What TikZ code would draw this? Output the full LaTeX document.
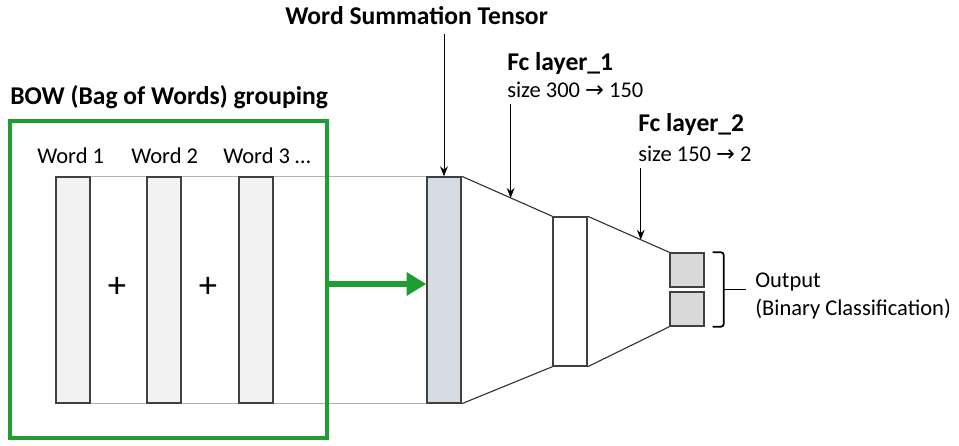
\documentclass[tikz,border=0pt]{standalone}
\usepackage{fontspec}
\setmainfont{Carlito}
\newfontfamily\arrowfont{DejaVu Sans}
\usetikzlibrary{arrows.meta,calc,backgrounds}
\definecolor{bowgreen}{RGB}{30,158,50}
\definecolor{tensorfill}{RGB}{214,220,228}

\begin{document}
\begin{tikzpicture}[x=0.025cm,y=-0.025cm,
  txt/.style={font=\fontsize{16}{19}\selectfont,inner sep=0pt},
  head/.style={font=\fontsize{18.2}{22}\selectfont\bfseries,inner sep=0pt},
  plus/.style={font=\fontsize{26}{30}\selectfont,inner sep=0pt},
  wordbar/.style={draw=black!75,line width=1pt,fill=black!5,minimum width=0.85cm,minimum height=5.65cm,inner sep=0pt},
  outbox/.style={draw=black!75,line width=1pt,fill=black!15,minimum width=0.85cm,minimum height=0.85cm,inner sep=0pt},
  pointer/.style={-{Stealth[length=7pt,width=5.5pt]},line width=0.7pt},
  trap/.style={draw=black!80,line width=0.8pt}]
\useasboundingbox (0,0) rectangle (959,446);
\node[wordbar] (w1) at (73,290) {};
\node[wordbar] (w2) at (164,290) {};
\node[wordbar] (w3) at (256,290) {};
\node[wordbar,fill=tensorfill] (tensor) at (444,290) {};
\node[wordbar,fill=white,minimum height=3.725cm] (fc1) at (570,291.5) {};
\node[outbox] (out1) at (687,270) {};
\node[outbox] (out2) at (687,309) {};
\begin{pgfonlayer}{background}
\draw[black!30,line width=0.8pt] (w1.north west) -- (tensor.north west);
\draw[black!30,line width=0.8pt] (w1.south west) -- (tensor.south west);
\end{pgfonlayer}
\node[draw=bowgreen,line width=2.5pt,minimum width=7.925cm,minimum height=7.925cm] (bow) at (168.5,279.5) {};
\draw[bowgreen,line width=4pt,-{Triangle[length=14pt,width=16pt]}] ([yshift=-0.1125cm]bow.east) -- ([yshift=-0.1125cm]bow.east -| tensor.west);
\draw[trap] (tensor.north east) -- (fc1.north west);
\draw[trap] (tensor.south east) -- (fc1.south west);
\draw[trap] (fc1.north east) -- (out1.north west);
\draw[trap] (fc1.south east) -- (out2.south west);
\node[head,anchor=base west] (bowlabel) at (10,105) {BOW (Bag of Words) grouping};
\node[txt,anchor=base west] (word1) at (37,163) {Word 1};
\node[txt,anchor=base west] (word2) at (131,163) {Word 2};
\node[txt,anchor=base west] (word3) at (223,163) {Word 3 …};
\node[plus] (plus1) at (117,287) {+};
\node[plus] (plus2) at (208,287) {+};
\node[head,anchor=base west] (sumlabel) at (285,25) {Word Summation Tensor};
\node[head,anchor=base west] (fc1label) at (507,71) {Fc layer\_1};
\node[txt,anchor=base west] (fc1size) at (507,98) {size 300 {\arrowfont →} 150};
\node[head,anchor=base west] (fc2label) at (638,132) {Fc layer\_2};
\node[txt,anchor=base west] (fc2size) at (638,162) {size 150 {\arrowfont →} 2};
\node[txt,anchor=base west] (outlabel) at (755,287) {Output};
\node[txt,anchor=base west] (outclass) at (755,315) {(Binary Classification)};
\coordinate (hit1) at ($(tensor.north east)!0.54!(fc1.north west)$);
\coordinate (hit2) at ($(fc1.north east)!0.65!(out1.north west)$);
\draw[pointer] ($(tensor.north |- sumlabel.south)+(0,9)$) -- (tensor.north);
\draw[pointer] ($(hit1 |- fc1size.south)+(0,6)$) -- (hit1);
\draw[pointer] ($(hit2 |- fc2size.south)+(0,6)$) -- (hit2);
\draw[line width=1.3pt,rounded corners=2pt] ($(out1.north east)+(8,0)$) -| ($(out2.south east)+(19,0)$) -- ($(out2.south east)+(8,0)$);
\draw[line width=1.3pt] ($(out1.north east)!0.5!(out2.south east)+(19,0)$) -- +(22,0);
\end{tikzpicture}
\end{document}
